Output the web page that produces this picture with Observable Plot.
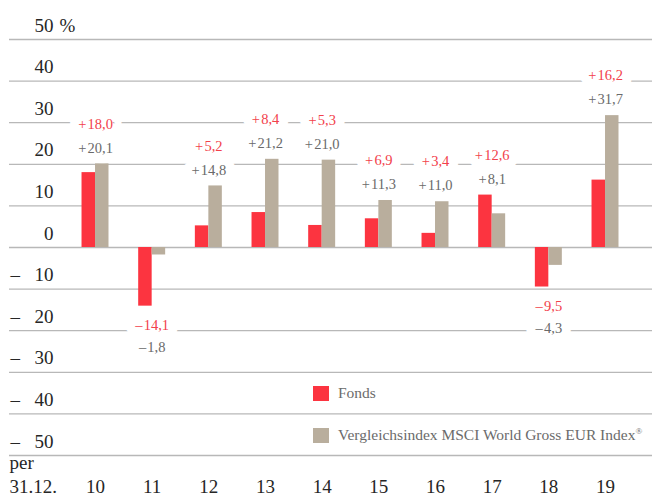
<!DOCTYPE html>
<html>
<head>
<meta charset="utf-8">
<script src="https://cdn.jsdelivr.net/npm/d3@7"></script>
<script src="https://cdn.jsdelivr.net/npm/@observablehq/plot@0.6"></script>
<style>
  html, body { margin: 0; padding: 0; background: #fff; }
  #wrap { position: relative; width: 652px; height: 502px; font-family: "Liberation Serif", serif; }
  .leg { position: absolute; left: 313px; display: flex; align-items: center; font-size: 15.5px; color: #6b6b6b; white-space: nowrap; }
  .leg .sw { width: 16px; height: 15px; margin-right: 9px; }
  .leg sup { font-size: 9px; vertical-align: 6px; }
</style>
</head>
<body>
<div id="wrap"></div>
<script>
const years = ["10", "11", "12", "13", "14", "15", "16", "17", "18", "19"];
const fonds = [18.0, -14.1, 5.2, 8.4, 5.3, 6.9, 3.4, 12.6, -9.5, 16.2];
const index = [20.1, -1.8, 14.8, 21.2, 21.0, 11.3, 11.0, 8.1, -4.3, 31.7];
const yTicks = [50, 40, 30, 20, 10, 0, -10, -20, -30, -40, -50];
const seriesNames = ["Fonds", "Vergleichsindex MSCI World Gross EUR Index"];

const FONT = "Liberation Serif";
const RED = "#fc3440";
const BEIGE = "#b9ae9d";
const RED_TXT = "#f2414b";
const GREY_TXT = "#6a6a6a";
const DARK = "#262626";

const rows = years.map((y, i) => ({year: y, fonds: fonds[i], index: index[i]}));

const fmt = v => (v >= 0 ? "+\u200a" : "–\u200a") + Math.abs(v).toFixed(1).replace(".", ",");
const anyNeg = d => d.fonds < 0 || d.index < 0;
const anchorY = d => anyNeg(d) ? Math.min(d.fonds, d.index) : Math.max(d.fonds, d.index);

const redLabels = rows.map(d => ({year: d.year, y: anchorY(d), text: fmt(d.fonds), dy: anyNeg(d) ? 19 : -40}));
const greyLabels = rows.map(d => ({year: d.year, y: anchorY(d), text: fmt(d.index), dy: anyNeg(d) ? 41 : -16}));
const allLabels = redLabels.concat(greyLabels);

const labelMarks = (data, fill, halo) => {
  const groups = d3.groups(data, d => d.dy);
  return groups.map(([dy, g]) => Plot.text(g, {
    x: "year", y: "y", text: "text", dy,
    fontSize: 14.5, fontFamily: FONT,
    fill: halo ? "white" : fill,
    stroke: halo ? "white" : undefined,
    strokeWidth: halo ? 18 : undefined
  }));
};

const chart = Plot.plot({
  width: 652,
  height: 502,
  marginTop: 39,
  marginBottom: 47,
  marginLeft: 9,
  marginRight: 0,
  x: {type: "band", domain: years, paddingInner: 0.524, paddingOuter: 0.9355, align: 0.684, round: false, axis: null},
  y: {domain: [-50, 50], axis: null},
  marks: [
    Plot.ruleY(yTicks, {stroke: "#b8b8b8", strokeWidth: 1.3}),
    ...labelMarks(allLabels, null, true),
    Plot.barY(rows, {x: "year", y: "fonds", fill: RED, insetRight: 13.5}),
    Plot.barY(rows, {x: "year", y: "index", fill: BEIGE, insetLeft: 13.5}),
    ...labelMarks(redLabels, RED_TXT, false),
    ...labelMarks(greyLabels, GREY_TXT, false),
    // y tick labels
    Plot.text(yTicks, {y: d => d, text: d => String(Math.abs(d)), frameAnchor: "left", textAnchor: "end", dx: 44, dy: -14, fontSize: 19, fontFamily: FONT, fill: DARK}),
    Plot.text(yTicks.filter(d => d < 0), {y: d => d, text: () => "–", frameAnchor: "left", textAnchor: "start", dx: 1, dy: -14, fontSize: 19, fontFamily: FONT, fill: DARK}),
    Plot.text(yTicks.filter(d => d === d3.max(yTicks)), {y: d => d, text: () => "%", frameAnchor: "left", textAnchor: "start", dx: 50, dy: -14, fontSize: 19, fontFamily: FONT, fill: DARK}),
    // x labels
    Plot.text(years, {x: d => d, text: d => d, frameAnchor: "bottom", dy: 37, fontSize: 19, fontFamily: FONT, fill: DARK}),
    Plot.text(["31.12."], {text: d => d, frameAnchor: "bottom-left", textAnchor: "start", dy: 37, fontSize: 19, fontFamily: FONT, fill: DARK}),
    Plot.text(["per"], {text: d => d, frameAnchor: "bottom-left", textAnchor: "start", dy: 13, fontSize: 19, fontFamily: FONT, fill: DARK})
  ]
});

const wrap = document.getElementById("wrap");
wrap.appendChild(chart);

const legColors = [RED, BEIGE];
const legTops = [385, 427];
seriesNames.forEach((name, i) => {
  const row = document.createElement("div");
  row.className = "leg";
  row.style.top = (legTops[i] - 1) + "px";
  const sw = document.createElement("div");
  sw.className = "sw";
  sw.style.background = legColors[i];
  const t = document.createElement("span");
  t.textContent = name;
  row.appendChild(sw);
  row.appendChild(t);
  if (i === 1) {
    const s = document.createElement("sup");
    s.textContent = "®";
    t.appendChild(s);
  }
  wrap.appendChild(row);
});
</script>
</body>
</html>
